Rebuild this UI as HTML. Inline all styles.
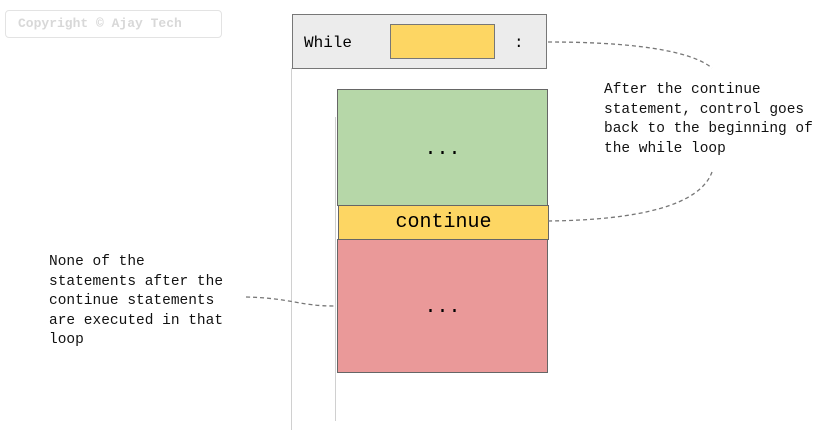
<!DOCTYPE html>
<html><head><meta charset="utf-8"><style>
body{margin:0;width:828px;height:444px;background:#fff;position:relative;overflow:hidden;font-family:"Liberation Mono",monospace}
.a{position:absolute;box-sizing:border-box}
</style></head><body>
<div class="a" style="left:5px;top:10px;width:217px;height:28px;border:1px solid #e3e3e3;border-radius:4px;color:#d8d8d8;font-size:13px;font-weight:bold;line-height:26px;padding-left:12px">Copyright © Ajay Tech</div>
<div class="a" style="left:291px;top:68px;width:1px;height:362px;background:#d0d0d0"></div>
<div class="a" style="left:335px;top:117px;width:1px;height:304px;background:#d0d0d0"></div>
<div class="a" style="left:292px;top:14px;width:255px;height:55px;background:#ececec;border:1px solid #777"></div>
<div class="a" style="left:304px;top:31px;font-size:16px;line-height:24px;color:#000">While</div>
<div class="a" style="left:514px;top:31px;font-size:16px;line-height:24px;color:#000">:</div>
<div class="a" style="left:390px;top:24px;width:105px;height:35px;background:#fdd663;border:1px solid #777"></div>
<div class="a" style="left:337px;top:89px;width:211px;height:117px;background:#b6d7a8;border:1px solid #666;text-align:center;line-height:120px;font-size:20px">...</div>
<div class="a" style="left:337px;top:239px;width:211px;height:134px;background:#ea9999;border:1px solid #666;text-align:center;line-height:136px;font-size:20px">...</div>
<div class="a" style="left:338px;top:205px;width:211px;height:35px;background:#fdd663;border:1px solid #666;text-align:center;line-height:33px;font-size:20px">continue</div>
<svg class="a" style="left:0;top:0" width="828" height="444">
<g fill="none" stroke="#777" stroke-width="1.3" stroke-dasharray="4,3">
<path d="M548 42 C630 42 690 50 712 68"/>
<path d="M548 221 C640 220 700 205 712 172"/>
<path d="M246 297 C290 298 300 306 334 306"/>
</g></svg>
<div class="a" style="left:604px;top:81px;font-size:14.5px;line-height:19.5px;color:#111;white-space:pre">After the continue
statement, control goes
back to the beginning of
the while loop</div>
<div class="a" style="left:49px;top:253px;font-size:14.5px;line-height:19.5px;color:#111;white-space:pre">None of the
statements after the
continue statements
are executed in that
loop</div>
</body></html>
